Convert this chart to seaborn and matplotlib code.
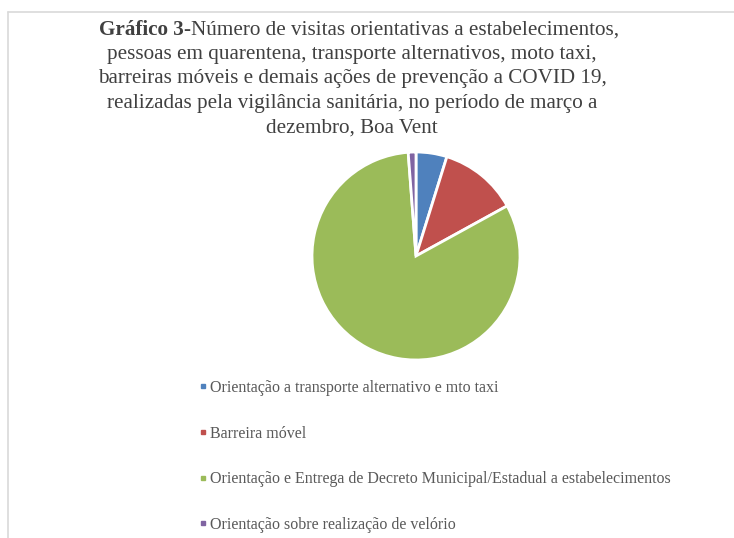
import matplotlib
matplotlib.use("Agg")
import matplotlib.pyplot as plt
from matplotlib.lines import Line2D
import seaborn as sns

categories = [
    "Orientação a transporte alternativo e mto taxi",
    "Barreira móvel",
    "Orientação e Entrega de Decreto Municipal/Estadual a estabelecimentos",
    "Orientação sobre realização de velório",
]
values = [4.8, 12.2, 81.8, 1.2]
colors = ["#4F81BD", "#C0504D", "#9BBB59", "#8064A2"]

title_bold = "Gráfico 3"
title_lines = [
    "-Número de visitas orientativas a estabelecimentos,",
    "pessoas em quarentena, transporte alternativos, moto taxi,",
    "barreiras móveis e demais ações de prevenção a COVID 19,",
    "realizadas pela vigilância sanitária, no período de março a",
    "dezembro, Boa Vent",
]

sns.set_theme(style="white")
plt.rcParams["font.family"] = ["Liberation Serif", "DejaVu Serif"]

W, H = 734, 538
fig = plt.figure(figsize=(W / 100, H / 100), dpi=100)
fig.patch.set_facecolor("white")

# border (top and left)
fig.add_artist(Line2D([8 / W, 1], [1 - 12 / H, 1 - 12 / H], color="#D9D9D9", lw=1.2))
fig.add_artist(Line2D([8 / W, 8 / W], [0, 1 - 12 / H], color="#D9D9D9", lw=1.2))

# pie
cx, cy, r = 416, 256, 104
ax = fig.add_axes([(cx - r) / W, (H - cy - r) / H, 2 * r / W, 2 * r / H])
wedges, _ = ax.pie(values, colors=colors, startangle=90, counterclock=False,
                   wedgeprops=dict(edgecolor="white", linewidth=2))
ax.set_xlim(-1, 1)
ax.set_ylim(-1, 1)
ax.set_aspect("equal")
ax.axis("off")

# title
tcol = "#404040"
fs = 15.25
xc = 352
ys = [30, 54.5, 79, 103.5, 128]
renderer = fig.canvas.get_renderer()
tb = fig.text(0, 1 - ys[0] / H, title_bold, fontsize=fs, fontweight="bold",
              color=tcol, va="center", ha="left")
tn = fig.text(0, 1 - ys[0] / H, title_lines[0], fontsize=fs, color=tcol,
              va="center", ha="left")
wb = tb.get_window_extent(renderer).width
wn = tn.get_window_extent(renderer).width
x0 = 359 - (wb + wn) / 2
tb.set_x(x0 / W)
tn.set_x((x0 + wb) / W)
for line, y in zip(title_lines[1:], ys[1:]):
    fig.text(xc / W, 1 - y / H, line, fontsize=fs, color=tcol, va="center", ha="center")

# legend
handles = [Line2D([], [], marker="s", linestyle="none", markersize=3,
                  markerfacecolor=c, markeredgecolor=c) for c in colors]
leg = fig.legend(handles, categories, loc="upper left",
                 bbox_to_anchor=(193 / W, 1 - 373.5 / H), frameon=False,
                 fontsize=11.5, labelcolor="#595959", handlelength=0.4,
                 handletextpad=0.25, labelspacing=1.86, borderaxespad=0)

fig.savefig("out.png", dpi=100, facecolor="white")
